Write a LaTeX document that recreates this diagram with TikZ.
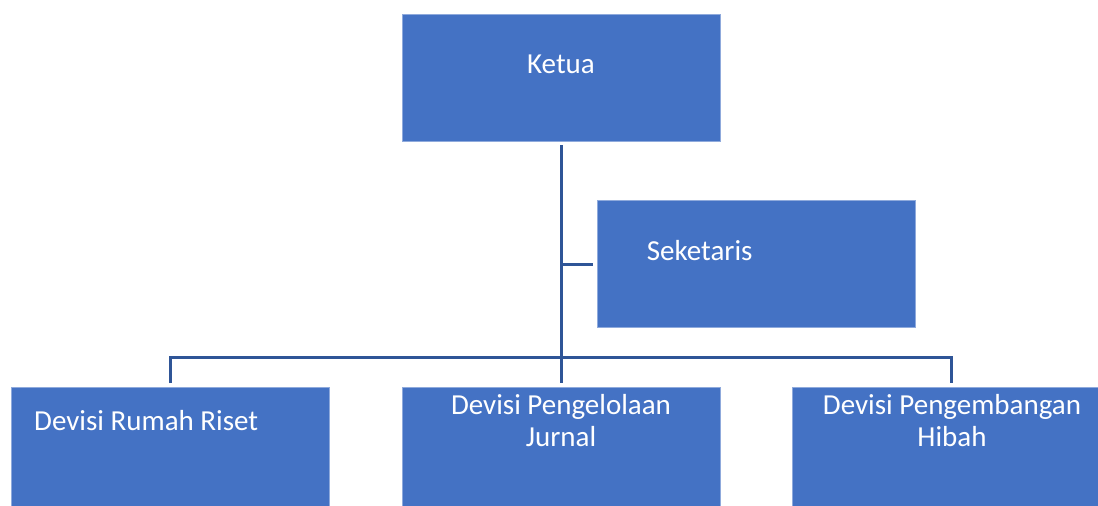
\documentclass[tikz,border=0pt]{standalone}
\usepackage{fontspec}
\setmainfont{Carlito}
\usetikzlibrary{positioning}
\definecolor{boxblue}{RGB}{68,114,196}
\definecolor{boxedge}{RGB}{143,170,220}
\definecolor{linkblue}{RGB}{47,85,151}

\begin{document}
\begin{tikzpicture}[x=1pt,y=-1pt,
    unit/.style={draw=boxedge,line width=0.75pt,fill=boxblue,minimum width=318pt,minimum height=127pt,inner sep=0pt},
    lbl/.style={text=white,font=\fontsize{29}{32.7}\selectfont,inner sep=0pt,anchor=base,align=center},
    link/.style={draw=linkblue,line width=3pt}]
	\useasboundingbox (0,0) rectangle (1098,506);
	% kotak
	\node[unit] (ketua) at (561,77.5) {};
	\node[unit] (sek) at (756,264) {};
	\node[unit] (riset) at (170,451) {};
	\node[unit] (jurnal) at (561,451) {};
	\node[unit] (hibah) at (951.5,451) {};
	% teks
	\node[lbl] (tketua) at (561,73) {Ketua};
	\node[lbl,anchor=base west] (tsek) at (646.7,260) {Seketaris};
	\node[lbl,anchor=base west] (triset) at (34,430.7) {Devisi Rumah Riset};
	\node[lbl] (tjurnal) at (561,446.7) {Devisi Pengelolaan\\Jurnal};
	\node[lbl] (thibah) at (952,446.7) {Devisi Pengembangan\\Hibah};
	% garis
	\coordinate (bar) at (561,357);
	\draw[link,shorten <=4pt,shorten >=4pt] (ketua.south) -- (jurnal.north);
	\draw[link] (ketua.south |- sek.west) -- ([xshift=-4pt]sek.west);
	\draw[link] ([yshift=4pt]riset.north) |- (bar) -| ([yshift=4pt]hibah.north);
\end{tikzpicture}
\end{document}
